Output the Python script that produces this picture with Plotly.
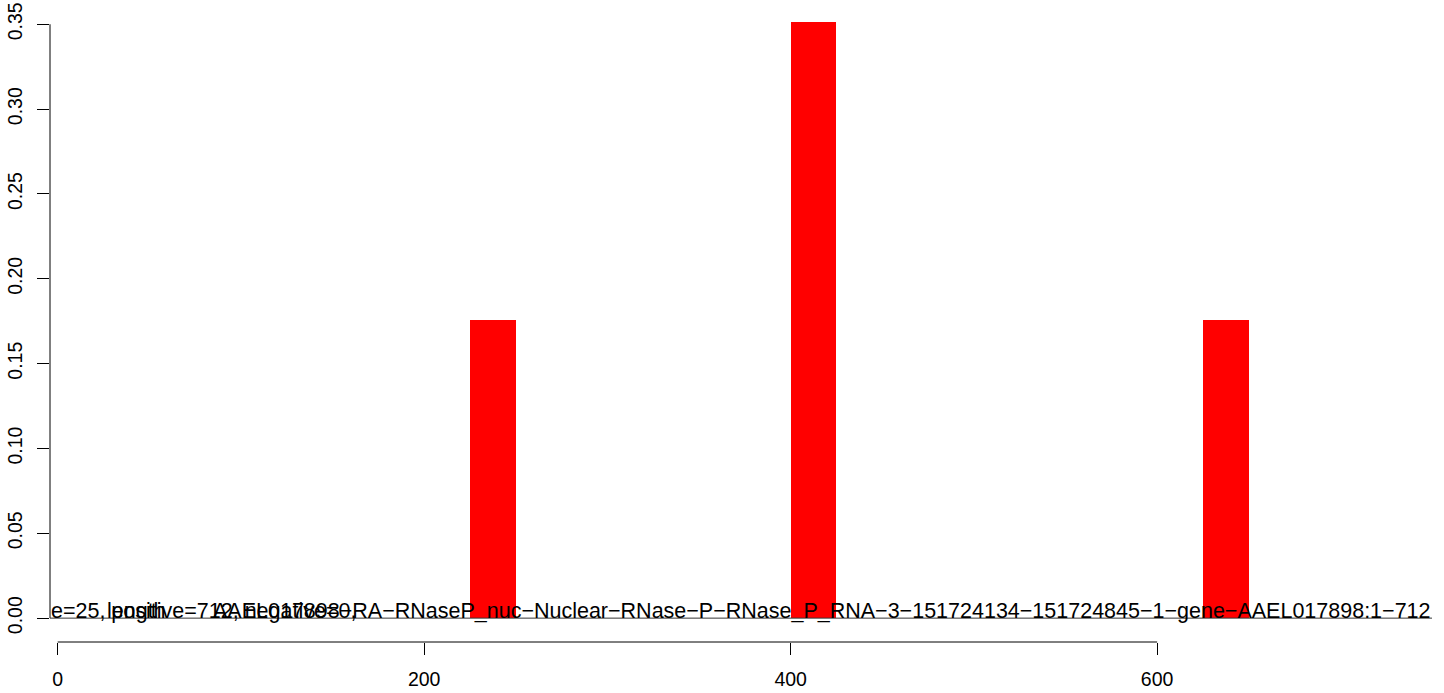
import plotly.graph_objects as go

# data
bin_starts = [225, 400, 625]
bin_width = 25
fractions = [0.1757, 0.3514, 0.1757]
x_ticks = [0, 200, 400, 600]
y_ticks = [0.00, 0.05, 0.10, 0.15, 0.20, 0.25, 0.30, 0.35]
label_left = "e=25, positive=712, negative=0,"
label_overlap = "length"
label_right = ("AAEL017898\u2212RA\u2212RNaseP_nuc\u2212Nuclear\u2212RNase\u2212P\u2212RNase_P_RNA"
               "\u22123\u2212151724134\u2212151724845\u22121\u2212gene\u2212AAEL017898:1\u2212712")

FONT = "Liberation Sans, Arial, sans-serif"
TICK_FS = 19.5
TEXT_FS = 21.5

fig = go.Figure()
fig.add_trace(go.Bar(x=bin_starts, y=fractions, width=[bin_width] * len(bin_starts), offset=0,
                     marker=dict(color="#FF0000", line=dict(width=0)), showlegend=False))

xr = [-4.2, 750]
yr = [-0.01406, 0.3643]

fig.update_layout(
    width=1444, height=693,
    margin=dict(l=50, r=12, t=0, b=51),
    paper_bgcolor="white", plot_bgcolor="white",
    font=dict(family=FONT, size=TICK_FS, color="black"),
    bargap=0,
    xaxis=dict(range=xr, showgrid=False, zeroline=False, showline=False, automargin=False,
               tickmode="array", tickvals=x_ticks, ticktext=[str(v) for v in x_ticks],
               ticks="outside", ticklen=12, tickcolor="black", tickwidth=1,
               ticklabelstandoff=8),
    yaxis=dict(range=yr, showgrid=False, zeroline=False, showline=False, automargin=False,
               tickmode="array", tickvals=y_ticks, ticktext=[f"{v:.2f}" for v in y_ticks],
               ticks="outside", ticklen=12, tickcolor="black", tickwidth=1,
               tickangle=-90, ticklabelstandoff=7, ticklabeloverflow="allow"),
)

# axis lines spanning only first..last tick (R style)
fig.add_shape(type="line", xref="x", yref="paper", x0=x_ticks[0], x1=x_ticks[-1], y0=0, y1=0,
              line=dict(color="black", width=1))
fig.add_shape(type="line", xref="paper", yref="y", x0=0, x1=0, y0=y_ticks[0], y1=y_ticks[-1],
              line=dict(color="black", width=1))
# horizontal line at zero
fig.add_shape(type="line", xref="paper", yref="y", x0=0, x1=1, y0=0, y1=0,
              line=dict(color="#333333", width=1))

tfont = dict(family=FONT, size=TEXT_FS, color="black")
fig.add_annotation(text=label_right, xref="paper", yref="y", x=1, y=0, xanchor="right",
                   yanchor="bottom", showarrow=False, font=tfont, borderpad=0, yshift=-6)
fig.add_annotation(text=label_left, xref="paper", yref="y", x=0, y=0, xanchor="left",
                   yanchor="bottom", showarrow=False, font=tfont, borderpad=0, yshift=-6)
fig.add_annotation(text=label_overlap, xref="paper", yref="y", x=0, y=0, xanchor="left",
                   yanchor="bottom", showarrow=False, font=tfont, borderpad=0, yshift=-6,
                   xshift=56)

fig.write_html("out.html", config={"displayModeBar": False},
               post_script="document.body.style.margin='0px';")
